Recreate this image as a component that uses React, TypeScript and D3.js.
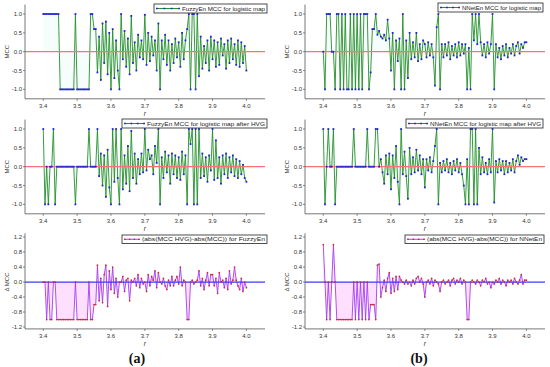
import React from 'react';
import * as d3 from 'd3';

// r grid: 3.400 .. 4.000, step 0.005 (121 samples)
const R_START = 3.4;
const R_STEP = 0.005;
const R_COUNT = 121;
const R = d3.range(R_COUNT).map((i) => +(R_START + i * R_STEP).toFixed(3));

const FUZZY_MCC = [
  1, 1, 1, 1, 1, 1, 1, 1, 1, 1,
  -1, -1, -1, -1, -1, -1, -1, -1, -1, 1,
  -1, -1, -1, -1, -1, -1, -1, -1, 1, 1,
  0.6, 0.6, -0.55, 0.4, -0.75, 0.75, -0.3, 0.8, -0.6, 0.5,
  -1.0, 0.6, -0.7, 0.3, -0.5, -1.0, 1.0, -0.2, 0.55, -0.4,
  0.35, -0.6, 0.95, -0.3, 0.25, -0.5, 0.45, -0.15, 0.3, -0.2,
  0.98, -0.35, 0.5, -0.25, 0.4, -0.1, 0.3, -0.5, 0.75, -1.0,
  0.3, -0.2, 0.45, -0.35, 0.3, -0.5, 0.2, -0.3, 0.35, -0.15,
  0.25, -0.4, 0.5, -0.2, 0.3, 0.6, 1.0, -1.0, 1.0, 1.0,
  -1.0, 1.0, -0.65, 0.4, -0.45, 0.15, -0.3, 0.3, -0.5, 0.4,
  -0.2, 0.3, -0.4, 0.25, -0.35, 0.35, -0.1, 0.2, -0.45, 0.3,
  -0.3, 0.35, -0.2, 0.2, -0.35, 0.3, -0.4, 0.25, -0.3, 0.15,
  -0.5,
];

const NNET_MCC = [
  0, -1, 1, 1, 1, 0, 0, -1, 1, 1,
  -1, 1, -1, 1, -1, -1, 1, -1, 1, -1,
  1, -1, 1, -1, 1, 1, 1, -1, -0.55, 0.6,
  0.6, 1.0, 0.45, 0.55, 0.4, 0.35, 0.45, 0.3, 0.85, 0.35,
  -0.5, 0.5, -1.0, 0.3, -0.25, 0.35, -1.0, 1.0, -1.0, 0.3,
  -0.7, 0.5, -0.2, 0.25, -0.15, 0.5, -0.25, 0.2, -0.2, 0.3,
  0.2, -0.15, 0.25, -0.1, 0.2, -0.15, -0.9, 0.65, 1.0, -1.0,
  0.2, -0.15, 0.2, -0.1, 0.25, -0.2, 0.15, -0.1, 0.2, -0.15,
  0.25, -0.1, 0.2, -0.05, 0.2, -1.0, 0.1, -1.0, 1.0, 0.3,
  1.0, 0.2, 1.0, 0.25, -0.1, 0.2, -0.15, 0.25, -0.05, 0.2,
  1.0, -1.0, 0.2, -0.15, 0.1, -0.2, 0.15, -0.1, 0.2, -0.15,
  0.1, -0.05, 0.2, -0.1, 0.15, 0.25, -0.05, 0.2, 0.1, 0.25,
  0.25,
];

const FUZZY_HVG = [
  1, -1, 0, -1, 0, 0, 1, -1, 0, 0,
  0, 0, 0, 0, 0, 0, 0, 0, 0, -1,
  0, 0, 0, 0, 0, 0, 0, 1, 0, 0,
  0, 0, 1, -0.25, 0.35, -0.5, 0.3, -0.8, 0.45, -0.55,
  -1.0, 1.0, -0.4, 1.0, -0.3, -1.0, 1.0, -0.6, 0.3, -0.45,
  0.55, -0.65, 0.95, -0.3, 0.35, -0.45, 0.2, -0.2, 0.35, -0.15,
  1.0, -0.1, 0.45, 0.2, 0.3, -0.2, 0.55, 0.1, 1.0, -1.0,
  0.25, -0.3, 0.4, -0.15, 0.3, -0.45, 0.35, -0.2, 0.3, -0.3,
  0.25, -0.35, 0.4, -0.2, 0.3, -1.0, 1.0, 0.6, 1.0, -1.0,
  1.0, -1.0, 1.0, -0.3, 0.35, -0.25, 0.25, -0.4, 0.3, -0.1,
  1.0, -0.35, 0.7, -0.3, 0.25, -0.45, 0.3, -0.2, 0.35, -0.3,
  0.25, -0.15, 0.3, -0.25, 0.2, -0.3, 0.15, -0.2, 0.05, -0.3,
  -0.4,
];

const NNET_HVG = [
  1, -1, 0, 1, 0, 0, 1, -1, 0, 0,
  0, 0, 0, 0, 0, 0, 0, 0, 1, 0,
  0, 0, 0, 0, 0, 0, 1, 0, 0, 0,
  0, 1, 1, 0, 0.2, -0.15, -0.45, 0.3, -0.2, 0.35,
  -0.6, 0.3, -0.3, 0.55, -0.4, -1.0, 1.0, -0.2, 0.4, -0.25,
  -0.85, 0.5, -0.2, 0.25, -0.15, 0.45, -0.1, 0.3, -0.2, 0.2,
  -0.55, 0.2, -0.1, 0.25, -0.15, 0.15, 0.55, 1.0, -1.0, 0.1,
  -0.15, 0.15, -0.1, 0.2, -0.15, 0.1, -0.2, 0.15, -0.1, 0.2,
  -0.15, 0.1, -0.2, -0.5, -1.0, 0.2, -1.0, 1.0, 1.0, -1.0,
  1.0, -1.0, 0.5, -0.2, 0.25, -0.15, 0.1, -0.2, 0.2, -0.15,
  1.0, -0.95, 0.15, -0.15, 0.2, -0.1, 0.15, -0.2, 0.15, -0.15,
  0.1, -0.1, 0.2, -0.15, 0.15, 0.3, 0.05, 0.25, 0.15, 0.2,
  0.2,
];

const FUZZY_DELTA = [
  0, 0, -1, 0, -1, -1, 0, 0, -1, -1,
  -1, -1, -1, -1, -1, -1, -1, -1, -1, 0,
  -1, -1, -1, -1, -1, -1, -1, 0, -1, -1,
  -0.6, -0.6, 0.45, -0.5, 0.1, -0.55, 0.2, 0.45, -0.65, 0.3,
  -0.2, 0.4, -0.3, 0.1, -0.4, 0.0, 0.0, 0.15, -0.25, 0.05,
  0.1, -0.5, 0.05, 0.0, 0.1, -0.1, 0.2, -0.15, 0.1, -0.05,
  0.0, -0.25, 0.2, -0.1, 0.15, 0.05, 0.3, -0.15, 0.25, 0.0,
  -0.05, 0.1, -0.1, -0.2, 0.05, -0.1, 0.15, -0.1, 0.05, 0.15,
  -0.05, 0.4, -0.1, 0.05, 0.0, -1.0, -1.0, 0.0, 0.05, -0.05,
  0.0, 0.05, 0.3, -0.1, 0.1, -0.2, 0.05, 0.25, -0.1, 0.2,
  0.2, -0.1, 0.1, -0.3, 0.25, 0.0, 0.05, -0.15, 0.1, -0.2,
  0.3, -0.05, 0.05, 0.4, 0.05, -0.1, -0.2, 0.1, -0.25, 0.0,
  -0.15,
];

const NNET_DELTA = [
  1, 0, -1, 0, -1, 0, 1, 0, -1, -1,
  -1, -1, -1, -1, -1, -1, -1, -1, 0, -1,
  0, -1, 0, -1, 0, -1, 0, -1, -0.6, -0.6,
  -0.6, -1.0, 0.45, 0.48, -0.4, -0.15, 0.05, -0.25, 0.1, 0.25,
  -0.3, 0.1, -0.25, 0.15, -0.2, 0.15, 0.05, 0.0, -0.05, 0.05,
  -0.05, 0.0, -0.1, 0.05, -0.05, 0.1, 0.15, 0.0, 0.1, -0.05,
  -0.4, 0.0, 0.05, -0.05, 0.1, -0.1, 0.05, 0.0, -0.05, -0.25,
  0.0, 0.05, -0.05, 0.0, 0.05, -0.1, 0.05, 0.1, -0.05, 0.05,
  0.0, 0.1, -0.05, 0.05, 0.0, -1.0, -1.0, 0.0, 0.05, 0.0,
  -0.05, 0.05, 0.0, -0.1, 0.05, 0.0, 0.1, -0.05, 0.0, -0.15,
  0.0, -0.05, 0.05, 0.0, 0.1, -0.05, 0.05, 0.0, -0.1, 0.05,
  0.0, 0.05, -0.05, 0.1, 0.0, -0.05, 0.05, 0.2, -0.05, 0.05,
  0.05,
];

const X_TICKS = [3.4, 3.5, 3.6, 3.7, 3.8, 3.9, 4.0];
const MCC_TICKS = [-1, -0.5, 0, 0.5, 1];
const DELTA_TICKS = [-1.2, -0.8, -0.4, 0, 0.4, 0.8, 1.2];
const MCC_DOMAIN = [-1.25, 1.25];
const DELTA_DOMAIN = [-1.25, 1.3];
const X_DOMAIN = [3.346, 4.055];

const LEGEND_LABELS = [
  'FuzzyEn MCC for logistic map',
  'NNetEn MCC for logistic map',
  'FuzzyEn MCC for logistic map after HVG',
  'NNetEn MCC for logistic map after HVG',
  '(abs(MCC HVG)-abs(MCC)) for FuzzyEn',
  '(abs(MCC HVG)-abs(MCC)) for NNetEn',
];
const Y_LABELS = ['MCC', 'MCC', 'Δ MCC'];
const PANEL_TAGS = ['(a)', '(b)'];

const FONT = "'Liberation Sans', Arial, sans-serif";

type PanelProps = {
  left: number;
  top: number;
  bottom: number;
  yDomain: number[];
  yTicks: number[];
  values: number[];
  delta: boolean;
  label: string;
  yLabel: string;
  box: [number, number, number, number];
  textX: [number, number];
};

function Panel(p: PanelProps) {
  const width = 240;
  const x = d3.scaleLinear().domain(X_DOMAIN).range([p.left, p.left + width]);
  const y = d3.scaleLinear().domain(p.yDomain).range([p.bottom, p.top]);
  const data = R.map((r, i) => ({ r, v: p.values[i] }));
  const linePath = d3
    .line<{ r: number; v: number }>()
    .x((d) => x(d.r))
    .y((d) => y(d.v))(data) as string;
  const areaPath = d3
    .area<{ r: number; v: number }>()
    .x((d) => x(d.r))
    .y0(y(0))
    .y1((d) => y(d.v))(data) as string;
  const lineColor = p.delta ? '#a53cf2' : '#23902a';
  const markColor = p.delta ? '#d42a2a' : '#2424d2';
  const zeroColor = p.delta ? '#3a3aff' : '#ff7272';
  const fillColor = p.delta ? 'rgba(255,80,255,0.18)' : 'rgba(90,235,205,0.06)';
  const axisColor = '#555';
  const [bx0, by0, bx1, by1] = p.box;
  const by = (by0 + by1) / 2;
  const sx0 = bx0 + 2;
  const sx1 = p.textX[0] - 2;
  return (
    <g>
      <path d={areaPath} fill={fillColor} stroke="none" />
      <path d={linePath} fill="none" stroke={lineColor} strokeWidth={0.9} />
      <line x1={p.left} x2={p.left + width} y1={y(0)} y2={y(0)} stroke={zeroColor} strokeWidth={1.3} />
      {data.map((d, i) =>
        p.delta ? (
          <circle key={i} cx={x(d.r)} cy={y(d.v)} r={0.85} fill={markColor} />
        ) : (
          <rect key={i} x={x(d.r) - 0.9} y={y(d.v) - 0.9} width={1.8} height={1.8} fill={markColor} />
        )
      )}
      <line x1={p.left} x2={p.left} y1={p.top} y2={p.bottom} stroke={axisColor} strokeWidth={0.8} />
      <line x1={p.left} x2={p.left + width} y1={p.bottom} y2={p.bottom} stroke={axisColor} strokeWidth={0.8} />
      {X_TICKS.map((t) => (
        <g key={'x' + t}>
          <line x1={x(t)} x2={x(t)} y1={p.bottom} y2={p.bottom + 2} stroke={axisColor} strokeWidth={0.7} />
          <text x={x(t)} y={p.bottom + 9.3} textAnchor="middle" fontSize={6} fontFamily={FONT} fill="#333">
            {t.toFixed(1)}
          </text>
        </g>
      ))}
      {p.yTicks.map((t) => (
        <g key={'y' + t}>
          <line x1={p.left - 2} x2={p.left} y1={y(t)} y2={y(t)} stroke={axisColor} strokeWidth={0.7} />
          <text x={p.left - 3} y={y(t) + 2.1} textAnchor="end" fontSize={6} fontFamily={FONT} fill="#333">
            {t.toFixed(1)}
          </text>
        </g>
      ))}
      <text x={x(3.7)} y={p.bottom + 17.5} textAnchor="middle" fontSize={6.5} fontStyle="italic" fontFamily={FONT} fill="#333">
        r
      </text>
      <text
        transform={`translate(${p.left - 16},${y(0)}) rotate(-90)`}
        textAnchor="middle"
        fontSize={6}
        fontFamily={FONT}
        fill="#333"
      >
        {p.yLabel}
      </text>
      <rect x={bx0} y={by0} width={bx1 - bx0} height={by1 - by0} fill="#fff" stroke="#222" strokeWidth={0.8} />
      <line x1={sx0} x2={sx1} y1={by} y2={by} stroke={lineColor} strokeWidth={1} />
      {[0, 1, 2, 3].map((k) => {
        const cx = sx0 + 1 + ((sx1 - sx0 - 2) * k) / 3;
        return p.delta ? (
          <circle key={k} cx={cx} cy={by} r={0.85} fill={markColor} />
        ) : (
          <rect key={k} x={cx - 0.8} y={by - 0.8} width={1.6} height={1.6} fill={markColor} />
        );
      })}
      <text
        x={p.textX[0]}
        y={by + 2.1}
        fontSize={6}
        fontFamily={FONT}
        fill="#222"
        textLength={p.textX[1] - p.textX[0]}
        lengthAdjust="spacingAndGlyphs"
      >
        {p.label}
      </text>
    </g>
  );
}

export default function App() {
  const rows = [
    { top: 4.6, bottom: 98.8, dom: MCC_DOMAIN, ticks: MCC_TICKS, delta: false },
    { top: 119.6, bottom: 213.8, dom: MCC_DOMAIN, ticks: MCC_TICKS, delta: false },
    { top: 233.3, bottom: 328.9, dom: DELTA_DOMAIN, ticks: DELTA_TICKS, delta: true },
  ];
  const series = [
    [FUZZY_MCC, NNET_MCC],
    [FUZZY_HVG, NNET_HVG],
    [FUZZY_DELTA, NNET_DELTA],
  ];
  const boxes: [number, number, number, number][][] = [
    [[154, 4, 267, 13], [438, 3, 543, 12]],
    [[122, 119, 267, 128], [406, 119, 543, 128]],
    [[122, 235, 267, 243.5], [405, 235, 544, 243.5]],
  ];
  const texts: [number, number][][] = [
    [[182, 265], [462, 541]],
    [[147, 265], [430, 541]],
    [[142, 265], [427, 542]],
  ];
  const lefts = [25, 305];
  return (
    <svg width={550} height={367} style={{ position: 'absolute', left: 0, top: 0, background: '#fff' }}>
      <rect x={0} y={0} width={550} height={367} fill="#fff" />
      {rows.map((row, ri) =>
        lefts.map((left, ci) => (
          <Panel
            key={ri + '-' + ci}
            left={left}
            top={row.top}
            bottom={row.bottom}
            yDomain={row.dom}
            yTicks={row.ticks}
            values={series[ri][ci]}
            delta={row.delta}
            label={LEGEND_LABELS[ri * 2 + ci]}
            yLabel={Y_LABELS[ri]}
            box={boxes[ri][ci]}
            textX={texts[ri][ci]}
          />
        ))
      )}
      {PANEL_TAGS.map((t, i) => (
        <text
          key={t}
          x={i === 0 ? 137 : 419}
          y={363}
          textAnchor="middle"
          fontSize={14}
          fontWeight="bold"
          fontFamily="'Liberation Serif', 'Times New Roman', serif"
          fill="#111"
        >
          {t}
        </text>
      ))}
    </svg>
  );
}
